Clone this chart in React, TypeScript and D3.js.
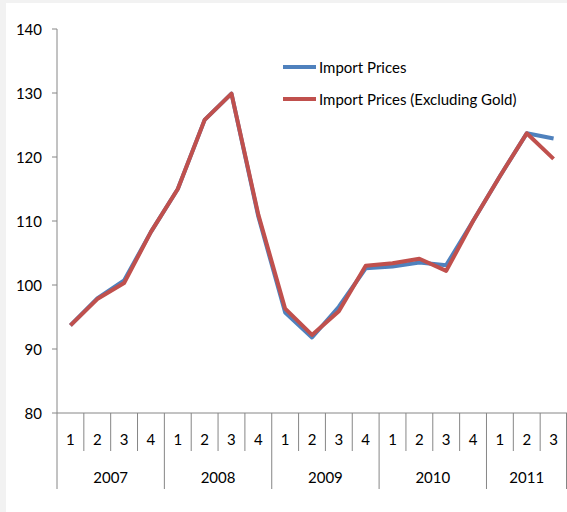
import React from "react";
import * as d3 from "d3";

const WIDTH = 567;
const HEIGHT = 512;
const PLOT = { left: 57, right: 567, top: 29, bottom: 413 };
const FONT = "Lato, 'Open Sans', sans-serif";
const AXIS_COLOR = "#868686";

// data (quarterly index)
const years = ["2007", "2008", "2009", "2010", "2011"];
const quartersPerYear = [4, 4, 4, 4, 3];
const yTicks = [80, 90, 100, 110, 120, 130, 140];

const importPrices = [
  93.7, 97.9, 100.7, 108.3, 115.0, 125.8, 129.9, 110.7, 95.7, 91.8,
  96.6, 102.6, 102.9, 103.5, 103.1, 110.0, 117.0, 123.7, 122.9,
];
const importPricesExGold = [
  93.7, 97.8, 100.3, 108.3, 115.0, 125.8, 129.9, 111.0, 96.3, 92.2,
  95.9, 103.0, 103.4, 104.1, 102.2, 110.0, 117.0, 123.7, 119.7,
];

const seriesNames = ["Import Prices", "Import Prices (Excluding Gold)"];
const seriesColors = ["#4f81bd", "#c0504d"];

// categories: year + quarter
const categories = years.flatMap((y, i) =>
  d3.range(1, quartersPerYear[i] + 1).map((q) => ({ key: `${y}-${q}`, year: y, q: String(q) }))
);

export default function App() {
  const x = d3
    .scaleBand()
    .domain(categories.map((c) => c.key))
    .range([PLOT.left, PLOT.right])
    .paddingInner(0)
    .paddingOuter(0);
  const y = d3.scaleLinear().domain([80, 140]).range([PLOT.bottom, PLOT.top]);
  const bw = x.bandwidth();

  const line = d3
    .line<number>()
    .x((_, i) => (x(categories[i].key) as number) + bw / 2)
    .y((d) => y(d));

  const allSeries = [importPrices, importPricesExGold];

  // year groups start indices
  let start = 0;
  const yearGroups = years.map((yr, i) => {
    const g = { year: yr, start, count: quartersPerYear[i] };
    start += quartersPerYear[i];
    return g;
  });

  const qDivEnd = 451;
  const yDivEnd = 489;

  return (
    <div style={{ position: "absolute", left: 0, top: 0 }}>
      <svg width={WIDTH} height={HEIGHT} style={{ display: "block" }}>
        <rect x={0} y={0} width={WIDTH} height={HEIGHT} fill="#f2f2f2" />
        <rect x={6} y={3} width={WIDTH - 6} height={HEIGHT - 3} fill="#ffffff" />

        {/* y axis */}
        <line x1={PLOT.left} x2={PLOT.left} y1={PLOT.top} y2={PLOT.bottom} stroke={AXIS_COLOR} />
        {yTicks.map((t) => (
          <g key={t}>
            <line x1={PLOT.left - 5} x2={PLOT.left} y1={y(t)} y2={y(t)} stroke={AXIS_COLOR} />
            <text
              x={42}
              y={y(t)}
              textAnchor="end"
              dominantBaseline="central"
              fontFamily={FONT}
              fontSize={15}
              fill="#000"
            >
              {t}
            </text>
          </g>
        ))}

        {/* x axis */}
        <line x1={PLOT.left} x2={PLOT.right} y1={PLOT.bottom} y2={PLOT.bottom} stroke={AXIS_COLOR} />
        {categories.map((c, i) => {
          const x0 = x(c.key) as number;
          const isYearStart = yearGroups.some((g) => g.start === i);
          return (
            <g key={c.key}>
              <line
                x1={x0}
                x2={x0}
                y1={PLOT.bottom}
                y2={isYearStart ? yDivEnd : qDivEnd}
                stroke={AXIS_COLOR}
              />
              <text
                x={x0 + bw / 2}
                y={439}
                textAnchor="middle"
                dominantBaseline="central"
                fontFamily={FONT}
                fontSize={15}
              >
                {c.q}
              </text>
            </g>
          );
        })}
        <line x1={PLOT.right - 0.5} x2={PLOT.right - 0.5} y1={PLOT.bottom} y2={yDivEnd} stroke={AXIS_COLOR} />
        {yearGroups.map((g) => {
          const x0 = x(categories[g.start].key) as number;
          return (
            <text
              key={g.year}
              x={x0 + (g.count * bw) / 2}
              y={477}
              textAnchor="middle"
              dominantBaseline="central"
              fontFamily={FONT}
              fontSize={15}
            >
              {g.year}
            </text>
          );
        })}

        {/* lines */}
        {allSeries.map((s, i) => (
          <path
            key={seriesNames[i]}
            d={line(s) || ""}
            fill="none"
            stroke={seriesColors[i]}
            strokeWidth={4}
            strokeLinejoin="round"
          />
        ))}

        {/* legend */}
        {seriesNames.map((name, i) => (
          <g key={name} transform={`translate(283,${67 + i * 32})`}>
            <line x1={0} x2={33} y1={0} y2={0} stroke={seriesColors[i]} strokeWidth={4} />
            <text x={36} y={0} dominantBaseline="central" fontFamily={FONT} fontSize={15}>
              {name}
            </text>
          </g>
        ))}
      </svg>
    </div>
  );
}
